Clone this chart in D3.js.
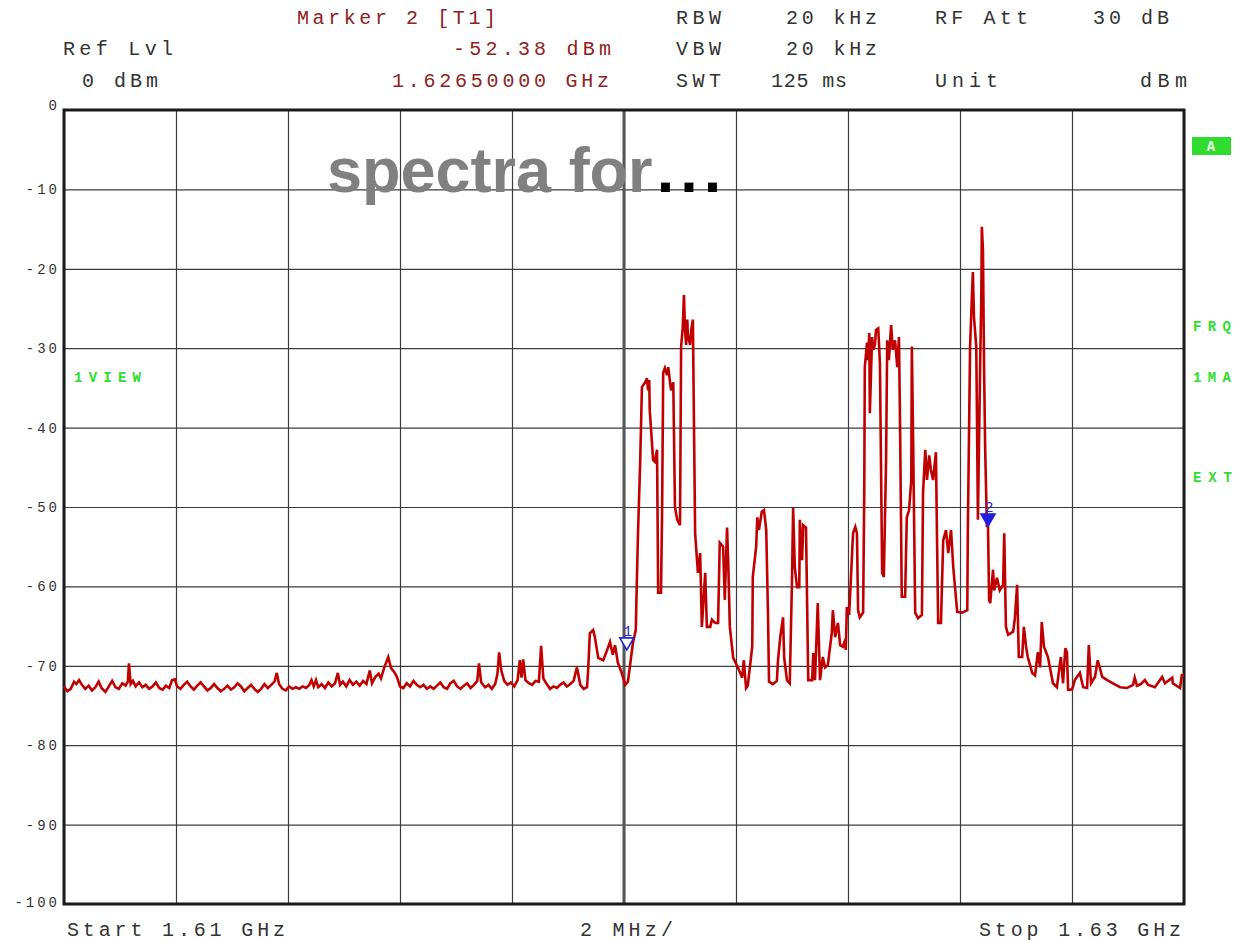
<!DOCTYPE html>
<html>
<head>
<meta charset="utf-8">
<script src="https://cdn.jsdelivr.net/npm/d3@7"></script>
<style>
  body { margin: 0; background: #fff; }
  svg { display: block; }
  .mono { font-family: "Liberation Mono", "Courier New", monospace; }
</style>
</head>
<body>
<svg width="1234" height="941"></svg>
<script>
// sweep settings
var startMHz = 1610, stopMHz = 1630
var refLevel = 0, bottomLevel = -100
var xTicks = [1610, 1612, 1614, 1616, 1618, 1620, 1622, 1624, 1626, 1628, 1630]
var yTicks = [0, -10, -20, -30, -40, -50, -60, -70, -80, -90, -100]

// markers: number, frequency (MHz), level (dBm)
var markerNames = ['1', '2']
var markerFreq = [1620.05, 1626.50]
var markerLevel = [-68.0, -52.4]

// trace 1, [frequency MHz, level dBm]
var trace = [
  [1610.00,-72.6],[1610.06,-73.2],[1610.12,-72.9],[1610.18,-72.0],[1610.22,-72.3],[1610.27,-71.8],
  [1610.32,-72.4],[1610.38,-72.9],[1610.44,-72.5],[1610.50,-73.1],[1610.56,-72.7],[1610.62,-72.0],
  [1610.67,-72.8],[1610.74,-73.3],[1610.80,-72.6],[1610.86,-71.9],[1610.92,-72.7],[1610.98,-72.9],
  [1611.04,-72.2],[1611.10,-72.5],[1611.14,-72.0],[1611.16,-69.7],[1611.19,-72.3],[1611.23,-71.9],
  [1611.28,-72.6],[1611.34,-72.1],[1611.40,-72.7],[1611.46,-72.4],[1611.52,-72.9],[1611.58,-72.6],
  [1611.64,-72.1],[1611.70,-72.8],[1611.76,-73.0],[1611.82,-72.5],[1611.88,-72.8],[1611.93,-71.8],
  [1611.98,-71.7],[1612.02,-72.6],[1612.08,-72.9],[1612.14,-72.4],[1612.20,-72.0],[1612.26,-72.6],
  [1612.32,-73.0],[1612.38,-72.5],[1612.44,-72.1],[1612.50,-72.6],[1612.56,-73.1],[1612.62,-72.8],
  [1612.68,-72.3],[1612.74,-72.8],[1612.80,-73.2],[1612.86,-72.9],[1612.92,-72.5],[1612.98,-73.0],
  [1613.04,-72.7],[1613.10,-72.2],[1613.16,-72.6],[1613.22,-73.2],[1613.28,-72.8],[1613.34,-72.4],
  [1613.40,-72.9],[1613.46,-73.3],[1613.52,-72.9],[1613.58,-72.3],[1613.64,-72.8],[1613.70,-72.4],
  [1613.76,-72.0],[1613.80,-70.9],[1613.84,-72.3],[1613.90,-72.9],[1613.96,-73.1],[1614.02,-72.6],
  [1614.08,-72.9],[1614.14,-72.7],[1614.20,-72.9],[1614.26,-72.6],[1614.32,-72.8],[1614.38,-72.4],
  [1614.42,-71.8],[1614.46,-72.6],[1614.50,-71.8],[1614.54,-72.7],[1614.60,-72.3],[1614.66,-72.8],
  [1614.72,-72.1],[1614.78,-72.6],[1614.84,-72.2],[1614.89,-70.9],[1614.93,-72.4],[1614.98,-72.0],
  [1615.04,-72.6],[1615.10,-71.8],[1615.16,-72.4],[1615.22,-72.0],[1615.28,-72.5],[1615.34,-71.9],
  [1615.40,-72.3],[1615.46,-70.6],[1615.50,-72.2],[1615.56,-71.4],[1615.62,-71.0],[1615.66,-71.6],
  [1615.72,-70.2],[1615.79,-68.9],[1615.84,-70.3],[1615.90,-70.8],[1615.95,-71.5],[1616.00,-72.6],
  [1616.06,-72.8],[1616.12,-72.2],[1616.18,-72.6],[1616.24,-71.9],[1616.30,-72.4],[1616.36,-72.7],
  [1616.42,-72.4],[1616.48,-72.9],[1616.54,-72.6],[1616.60,-72.9],[1616.66,-72.5],[1616.72,-72.1],
  [1616.78,-72.7],[1616.84,-72.9],[1616.90,-72.2],[1616.96,-71.9],[1617.02,-72.6],[1617.08,-72.9],
  [1617.14,-72.5],[1617.20,-72.2],[1617.26,-72.8],[1617.32,-72.4],[1617.38,-71.9],[1617.41,-69.7],
  [1617.45,-72.1],[1617.52,-72.7],[1617.58,-72.4],[1617.64,-72.9],[1617.70,-72.3],[1617.74,-71.0],
  [1617.77,-68.3],[1617.81,-70.6],[1617.86,-71.9],[1617.92,-72.4],[1617.98,-72.1],[1618.04,-72.6],
  [1618.10,-71.8],[1618.14,-69.3],[1618.17,-71.5],[1618.20,-69.2],[1618.24,-71.8],[1618.30,-72.2],
  [1618.36,-72.4],[1618.42,-71.9],[1618.48,-72.0],[1618.52,-67.5],[1618.56,-71.6],[1618.62,-72.3],
  [1618.68,-72.9],[1618.74,-72.6],[1618.80,-72.8],[1618.86,-72.4],[1618.92,-72.1],[1618.98,-72.6],
  [1619.04,-72.3],[1619.10,-71.9],[1619.16,-70.2],[1619.22,-72.4],[1619.28,-72.9],[1619.34,-72.7],
  [1619.36,-70.5],[1619.39,-65.9],[1619.45,-65.5],[1619.48,-66.4],[1619.54,-69.0],[1619.63,-69.3],
  [1619.70,-68.0],[1619.75,-67.0],[1619.80,-68.6],[1619.84,-67.4],[1619.89,-69.6],[1619.96,-70.9],
  [1620.02,-72.4],[1620.07,-72.0],[1620.16,-67.1],[1620.21,-65.5],[1620.23,-59.2],[1620.25,-53.3],
  [1620.29,-44.1],[1620.32,-34.9],[1620.38,-34.3],[1620.41,-33.8],[1620.43,-35.3],[1620.45,-34.0],
  [1620.46,-37.8],[1620.52,-44.1],[1620.55,-44.3],[1620.59,-42.8],[1620.61,-60.8],[1620.66,-60.8],
  [1620.68,-50.8],[1620.70,-33.1],[1620.73,-32.5],[1620.77,-33.4],[1620.79,-32.4],[1620.84,-35.3],
  [1620.88,-34.3],[1620.91,-50.0],[1620.95,-51.6],[1621.00,-52.3],[1621.02,-29.8],[1621.05,-27.3],
  [1621.07,-23.3],[1621.09,-27.7],[1621.11,-29.6],[1621.13,-26.4],[1621.14,-28.3],[1621.18,-29.6],
  [1621.20,-27.7],[1621.23,-26.4],[1621.25,-39.9],[1621.27,-53.3],[1621.32,-58.3],[1621.36,-55.8],
  [1621.39,-65.1],[1621.45,-58.3],[1621.48,-65.1],[1621.54,-65.1],[1621.57,-64.2],[1621.63,-64.6],
  [1621.68,-64.6],[1621.71,-54.5],[1621.77,-55.0],[1621.80,-61.7],[1621.84,-52.6],[1621.86,-56.7],
  [1621.89,-65.1],[1621.95,-69.0],[1622.04,-70.3],[1622.11,-71.5],[1622.14,-69.3],[1622.18,-72.8],
  [1622.21,-72.5],[1622.29,-67.6],[1622.30,-58.8],[1622.36,-55.0],[1622.38,-51.3],[1622.41,-52.9],
  [1622.46,-50.6],[1622.50,-50.4],[1622.54,-52.9],[1622.57,-63.0],[1622.59,-72.0],[1622.66,-72.3],
  [1622.73,-71.9],[1622.75,-69.3],[1622.79,-66.4],[1622.84,-63.9],[1622.86,-68.9],[1622.91,-71.8],
  [1622.96,-72.2],[1623.00,-59.2],[1623.02,-50.1],[1623.05,-57.6],[1623.09,-60.1],[1623.13,-60.1],
  [1623.14,-51.6],[1623.18,-56.7],[1623.20,-52.3],[1623.25,-52.6],[1623.29,-71.8],[1623.36,-71.8],
  [1623.38,-68.4],[1623.41,-71.8],[1623.46,-62.1],[1623.50,-71.8],[1623.55,-68.9],[1623.59,-70.2],
  [1623.64,-69.9],[1623.71,-65.9],[1623.73,-63.0],[1623.77,-66.4],[1623.82,-64.6],[1623.86,-67.4],
  [1623.91,-67.6],[1623.95,-66.7],[1623.96,-68.0],[1623.98,-62.6],[1624.02,-63.6],[1624.04,-60.8],
  [1624.09,-53.3],[1624.13,-52.5],[1624.16,-53.3],[1624.18,-63.0],[1624.21,-63.9],[1624.27,-63.3],
  [1624.29,-48.2],[1624.30,-32.4],[1624.34,-29.3],[1624.36,-31.5],[1624.38,-28.1],[1624.39,-38.2],
  [1624.43,-28.6],[1624.45,-30.2],[1624.48,-29.6],[1624.50,-27.7],[1624.54,-27.5],[1624.57,-31.9],
  [1624.61,-58.3],[1624.64,-58.8],[1624.68,-44.1],[1624.70,-29.0],[1624.73,-31.5],[1624.77,-27.1],
  [1624.80,-30.2],[1624.84,-29.0],[1624.88,-32.4],[1624.91,-28.6],[1624.93,-39.9],[1624.96,-61.3],
  [1625.02,-61.3],[1625.05,-51.3],[1625.09,-50.4],[1625.13,-46.6],[1625.14,-29.8],[1625.16,-39.9],
  [1625.20,-63.3],[1625.25,-64.0],[1625.32,-63.6],[1625.34,-48.2],[1625.38,-42.8],[1625.41,-46.6],
  [1625.45,-43.5],[1625.48,-45.3],[1625.52,-46.6],[1625.57,-43.1],[1625.59,-54.2],[1625.61,-64.6],
  [1625.66,-64.6],[1625.70,-54.2],[1625.75,-52.9],[1625.79,-55.8],[1625.84,-52.9],[1625.88,-57.6],
  [1625.95,-63.2],[1626.04,-63.3],[1626.13,-63.0],[1626.14,-52.9],[1626.18,-29.8],[1626.21,-23.9],
  [1626.23,-20.4],[1626.25,-26.1],[1626.29,-29.8],[1626.30,-36.5],[1626.32,-51.6],[1626.36,-31.9],
  [1626.38,-23.9],[1626.39,-14.7],[1626.41,-17.6],[1626.43,-32.7],[1626.45,-42.8],[1626.48,-52.4],
  [1626.50,-52.4],[1626.52,-61.7],[1626.54,-62.1],[1626.59,-57.9],[1626.61,-60.5],[1626.66,-58.9],
  [1626.71,-60.5],[1626.77,-59.8],[1626.79,-53.3],[1626.82,-65.1],[1626.86,-66.1],[1626.95,-65.7],
  [1626.98,-64.0],[1627.02,-59.8],[1627.05,-68.9],[1627.11,-68.9],[1627.14,-65.1],[1627.18,-67.6],
  [1627.21,-68.9],[1627.29,-70.9],[1627.34,-71.2],[1627.39,-68.3],[1627.43,-70.2],[1627.46,-64.5],
  [1627.50,-67.6],[1627.57,-68.9],[1627.66,-72.2],[1627.73,-72.7],[1627.80,-68.9],[1627.84,-72.2],
  [1627.88,-67.8],[1627.91,-68.3],[1627.93,-73.0],[1628.00,-73.0],[1628.05,-71.8],[1628.14,-70.9],
  [1628.20,-72.7],[1628.27,-72.8],[1628.30,-67.4],[1628.34,-72.2],[1628.41,-71.4],[1628.46,-69.3],
  [1628.54,-71.4],[1628.63,-71.8],[1628.73,-72.2],[1628.86,-72.7],[1628.98,-72.8],[1629.09,-72.4],
  [1629.12,-71.5],[1629.16,-72.5],[1629.23,-72.3],[1629.30,-71.8],[1629.36,-72.4],[1629.48,-72.7],
  [1629.61,-71.4],[1629.66,-72.2],[1629.79,-71.5],[1629.80,-72.2],[1629.93,-72.8],[1629.96,-71.2],
  [1630.00,-71.3]
]

var svg = d3.select('svg')
var plotLeft = 64, plotRight = 1184, plotTop = 110, plotBottom = 904

var x = d3.scaleLinear().domain([startMHz, stopMHz]).range([plotLeft, plotRight])
var y = d3.scaleLinear().domain([bottomLevel, refLevel]).range([plotBottom, plotTop])

//vertical grid lines
var gx = svg.append('g')
    .attr('transform', 'translate(0,' + plotBottom + ')')
    .call(d3.axisBottom(x).tickValues(xTicks).tickSize(-(plotBottom - plotTop)).tickFormat(''))
gx.select('.domain').remove()
gx.selectAll('line').attr('stroke', '#3c3c3c').attr('stroke-width', 1.2)

//horizontal grid lines + level labels
var gy = svg.append('g')
    .attr('transform', 'translate(' + plotLeft + ',0)')
    .call(d3.axisLeft(y).tickValues(yTicks).tickSize(-(plotRight - plotLeft)).tickPadding(4)
        .tickFormat(function (d) { return String(d) }))
gy.select('.domain').remove()
gy.selectAll('line').attr('stroke', '#3c3c3c').attr('stroke-width', 1.2)
gy.selectAll('text')
    .attr('class', 'mono')
    .style('font-size', '14px')
    .style('letter-spacing', '3px')
    .attr('fill', '#333')
    .attr('dy', function (d) { return d == 0 ? '-0.05em' : (d == -100 ? '0.15em' : '0.32em') })

//centre line is drawn heavier
svg.append('line')
    .attr('x1', x(1620)).attr('x2', x(1620)).attr('y1', plotTop).attr('y2', plotBottom)
    .attr('stroke', '#555').attr('stroke-width', 3)

//frame
svg.append('rect')
    .attr('x', plotLeft).attr('y', plotTop)
    .attr('width', plotRight - plotLeft).attr('height', plotBottom - plotTop)
    .attr('fill', 'none').attr('stroke', '#1a1a1a').attr('stroke-width', 3)

//big title
var title = svg.append('text')
    .attr('x', 327).attr('y', 192)
    .style('font-family', '"Liberation Sans", Arial, sans-serif')
    .style('font-weight', 'bold')
    .style('font-size', '63px')
    .attr('fill', '#808080')
    .text('spectra for')
title.append('tspan').attr('dx', 4).attr('fill', '#000')
    .style('letter-spacing', '6px').text('...')

//trace
var line = d3.line()
    .x(function (d) { return x(d[0]) })
    .y(function (d) { return y(d[1]) })
svg.append('path')
    .datum(trace)
    .attr('d', line)
    .attr('fill', 'none')
    .attr('stroke', '#c00000')
    .attr('stroke-width', 2.6)
    .attr('stroke-linejoin', 'miter')

//markers
var mk = svg.selectAll('.marker')
    .data(markerNames)
    .enter().append('g')
    .attr('class', 'marker')
    .attr('transform', function (d, i) { return 'translate(' + x(markerFreq[i]) + ',' + y(markerLevel[i]) + ')' })
mk.append('path')
    .attr('d', 'M0,0 L-7,-12 L7,-12 Z')
    .attr('fill', function (d, i) { return i == 0 ? '#fff' : '#1f1fe0' })
    .attr('stroke', '#1f1fe0')
    .attr('stroke-width', 1.6)
mk.append('text')
    .attr('class', 'mono')
    .attr('x', 1).attr('y', -14)
    .style('font-size', '15px')
    .attr('text-anchor', 'middle')
    .attr('fill', '#2a2ad0')
    .text(function (d) { return d })

//header and footer text
function label(px, py, str, col, len) {
    svg.append('text')
        .attr('class', 'mono')
        .attr('x', px).attr('y', py)
        .attr('textLength', len).attr('lengthAdjust', 'spacing')
        .style('font-size', '20px')
        .attr('fill', col)
        .text(str)
}
var red = '#8e2222', dark = '#333'
label(297, 24, 'Marker 2 [T1]', red, 199)
label(676, 24, 'RBW', dark, 45)
label(786, 24, '20 kHz', dark, 91)
label(935, 24, 'RF Att', dark, 93)
label(1093, 24, '30 dB', dark, 76)
label(63, 55, 'Ref Lvl', dark, 110)
label(453, 55, '-52.38 dBm', red, 158)
label(676, 55, 'VBW', dark, 45)
label(786, 55, '20 kHz', dark, 91)
label(82, 87, '0 dBm', dark, 76)
label(392, 87, '1.62650000 GHz', red, 217)
label(676, 87, 'SWT', dark, 45)
label(771, 87, '125 ms', dark, 76)
label(935, 87, 'Unit', dark, 63)
label(1140, 87, 'dBm', dark, 47)
label(67, 936, 'Start 1.61 GHz', dark, 218)
label(580, 936, '2 MHz/', dark, 93)
label(979, 936, 'Stop 1.63 GHz', dark, 202)

//green side annotations
var green = '#2fdc2f'
svg.append('rect').attr('x', 1192).attr('y', 137).attr('width', 39).attr('height', 18).attr('fill', green)
svg.append('text').attr('class', 'mono')
    .attr('x', 1211).attr('y', 151).attr('text-anchor', 'middle')
    .style('font-size', '14px').style('font-weight', 'bold')
    .attr('fill', '#e8ffe8').text('A')
function side(px, py, str, len) {
    svg.append('text').attr('class', 'mono')
        .attr('x', px).attr('y', py)
        .attr('textLength', len).attr('lengthAdjust', 'spacing')
        .style('font-size', '14px').style('font-weight', 'bold')
        .attr('fill', green).text(str)
}
side(1193, 331, 'FRQ', 38)
side(1193, 382, '1MA', 38)
side(1193, 482, 'EXT', 39)
side(74, 382, '1VIEW', 67)
</script>
</body>
</html>
